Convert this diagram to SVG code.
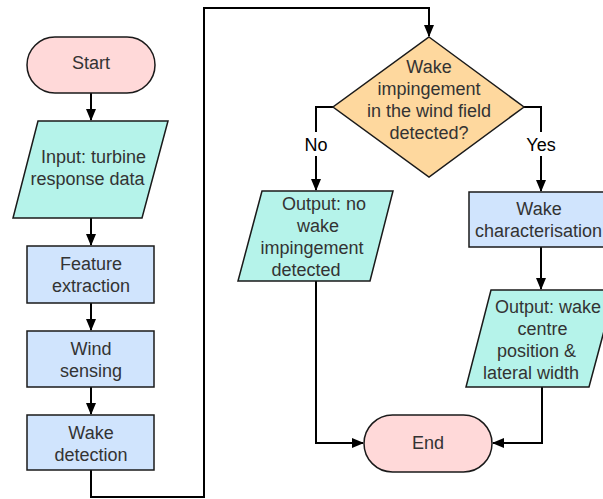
<svg xmlns="http://www.w3.org/2000/svg" width="603" height="499" viewBox="0 0 603 499">
<style>
.t{font-family:"Liberation Sans",Arial,sans-serif;font-size:18px;fill:#333333;text-anchor:middle}
.s{stroke:#1a1a1a;stroke-width:1.5}
.term{fill:#ffd9d9}
.io{fill:#b5f3ea}
.proc{fill:#d0e4fd}
.dec{fill:#fed89e}
.c{fill:none;stroke:#000;stroke-width:2}
.lbl{font-family:"Liberation Sans",Arial,sans-serif;font-size:18px;fill:#000;text-anchor:middle}
</style>
<defs>
<marker id="ah" viewBox="0 0 12 10" refX="11" refY="5" markerWidth="12" markerHeight="10" markerUnits="userSpaceOnUse" orient="auto">
<path d="M0,0 L12,5 L0,10 z" fill="#000"/>
</marker>
</defs>
<g id="connectors">
<path class="c" d="M91,93 V120" marker-end="url(#ah)"/>
<path class="c" d="M91,218 V245" marker-end="url(#ah)"/>
<path class="c" d="M91,303 V330" marker-end="url(#ah)"/>
<path class="c" d="M91,387 V414" marker-end="url(#ah)"/>
<path class="c" d="M91,470 V497 H204 V8 H429 V36" marker-end="url(#ah)"/>
<path class="c" d="M333,107 H316 V190" marker-end="url(#ah)"/>
<path class="c" d="M524,107 H541 V191" marker-end="url(#ah)"/>
<path class="c" d="M541,247 V289" marker-end="url(#ah)"/>
<path class="c" d="M316,281 V443 H363" marker-end="url(#ah)"/>
<path class="c" d="M542,387 V443 H493" marker-end="url(#ah)"/>
<rect x="301" y="132" width="30" height="24" fill="#fff"/>
<text class="lbl" x="316" y="151">No</text>
<rect x="523" y="132" width="36" height="24" fill="#fff"/>
<text class="lbl" x="541" y="151">Yes</text>
</g>
<g id="start">
<rect class="term s" x="27" y="37" width="128" height="56" rx="28" ry="28"/>
<text class="t" x="91" y="69">Start</text>
</g>
<g id="input">
<polygon class="io s" points="38,121 168,121 142,218 13,218"/>
<text class="t" x="93.5" y="163">Input: turbine</text>
<text class="t" x="87.5" y="185">response data</text>
</g>
<g id="feature">
<rect class="proc s" x="27" y="246" width="127" height="57"/>
<text class="t" x="91" y="270">Feature</text>
<text class="t" x="91" y="292">extraction</text>
</g>
<g id="wind">
<rect class="proc s" x="27" y="331" width="127" height="56"/>
<text class="t" x="91" y="355">Wind</text>
<text class="t" x="91" y="377">sensing</text>
</g>
<g id="wakedet">
<rect class="proc s" x="27" y="415" width="127" height="55"/>
<text class="t" x="91" y="439">Wake</text>
<text class="t" x="91" y="461">detection</text>
</g>
<g id="decision">
<polygon class="dec s" points="429,37 524,107 429,177 333,107"/>
<text class="t" x="429" y="73">Wake</text>
<text class="t" x="429" y="95">impingement</text>
<text class="t" x="429" y="117">in the wind field</text>
<text class="t" x="429" y="139">detected?</text>
</g>
<g id="outno">
<polygon class="io s" points="262,191 393,191 370,281 238,281"/>
<text class="t" x="324" y="210">Output: no</text>
<text class="t" x="318" y="232">wake</text>
<text class="t" x="312" y="254">impingement</text>
<text class="t" x="306" y="276">detected</text>
</g>
<g id="wakechar">
<rect class="proc s" x="469" y="192" width="140" height="55"/>
<text class="t" x="539" y="215">Wake</text>
<text class="t" x="538.5" y="237">characterisation</text>
</g>
<g id="outwake">
<polygon class="io s" points="491,290 615,290 589,387 466,387"/>
<text class="t" x="548" y="313">Output: wake</text>
<text class="t" x="542.5" y="335">centre</text>
<text class="t" x="536.5" y="357">position &amp;</text>
<text class="t" x="531" y="379">lateral width</text>
</g>
<g id="end">
<rect class="term s" x="364" y="415" width="128" height="57" rx="28.5" ry="28.5"/>
<text class="t" x="428" y="449">End</text>
</g>
</svg>
